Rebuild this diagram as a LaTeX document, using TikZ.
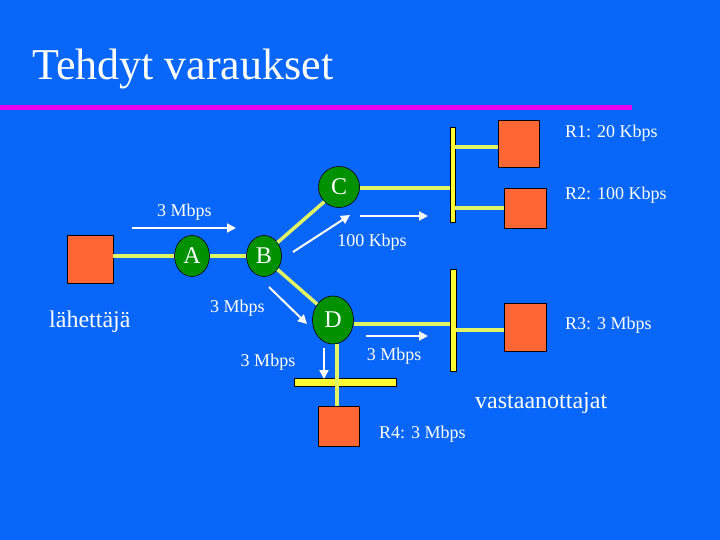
\documentclass[tikz,border=0pt]{standalone}
\usepackage{fontspec}
\setmainfont{Liberation Serif}
\usetikzlibrary{shapes.geometric,arrows.meta}
\definecolor{bgblue}{RGB}{8,102,250}
\definecolor{sqorange}{RGB}{255,102,51}
\definecolor{rgreen}{RGB}{0,145,0}
\definecolor{linkyel}{RGB}{225,245,100}
\definecolor{busyel}{RGB}{255,255,51}
\definecolor{magline}{RGB}{235,0,235}
\tikzset{
  host/.style={draw=black, line width=0.8pt, fill=sqorange, inner sep=0pt},
  router/.style={ellipse, draw=black, line width=0.6pt, fill=rgreen, text=white, inner sep=0pt, font=\fontsize{24}{24}\selectfont},
  link/.style={linkyel, line width=3.5pt},
  busbar/.style={draw=black, line width=0.5pt, fill=busyel, inner sep=0pt},
  flow/.style={white, line width=2pt, -{Triangle[length=9pt,width=9pt]}},
  lbl/.style={text=white, font=\fontsize{18}{18}\selectfont, inner sep=0pt},
  biglbl/.style={text=white, font=\fontsize{24}{24}\selectfont, inner sep=0pt}
}
\begin{document}
\begin{tikzpicture}[x=1pt,y=-1pt]
\fill[bgblue] (0,0) rectangle (720,540);
\useasboundingbox (0,0) rectangle (720,540);
% title
\node[anchor=base west, text=white, font=\fontsize{44}{44}\selectfont, inner sep=0pt] (title) at (32,80) {Tehdyt varaukset};
\fill[magline] (0,105.5) rectangle (632,110);
% hosts
\node[host, minimum width=46pt, minimum height=48pt] (S) at (90,259) {};
\node[host, minimum width=41pt, minimum height=47pt] (R1) at (518.5,143.5) {};
\node[host, minimum width=42pt, minimum height=40pt] (R2) at (525,208) {};
\node[host, minimum width=42pt, minimum height=48pt] (R3) at (525,327) {};
\node[host, minimum width=41pt, minimum height=40pt] (R4) at (338.5,426) {};
% bus bars
\node[busbar, minimum width=5pt, minimum height=95pt] (bus1) at (452.5,174.5) {};
\node[busbar, minimum width=6pt, minimum height=102pt] (bus2) at (453,320) {};
\node[busbar, minimum width=102pt, minimum height=8pt] (bus3) at (345,382) {};
% routers
\node[router, minimum width=35pt, minimum height=41pt] (A) at (192,256) {A};
\node[router, minimum width=35pt, minimum height=41pt] (B) at (264,256) {B};
\node[router, minimum width=41pt, minimum height=41pt] (C) at (339,187) {C};
\node[router, minimum width=41pt, minimum height=48pt] (D) at (333,320) {D};
% links
\draw[link] (S.east |- A.west) -- (A.west);
\draw[link] (A.east) -- (B.west);
\draw[link] (B.45) -- (C.225);
\draw[link] (B.-45) -- (D.135);
\draw[link] (C.east |- 0,188) -- (bus1.west |- 0,188);
\draw[link] (bus1.east |- 0,147) -- (R1.west |- 0,147);
\draw[link] (bus1.east |- 0,208) -- (R2.west);
\draw[link] (D.east |- 0,324) -- (bus2.west |- 0,324);
\draw[link] (bus2.east |- 0,330) -- (R3.west |- 0,330);
\draw[link] (D.south -| 337,0) -- (bus3.north -| 337,0);
\draw[link] (bus3.south -| 337,0) -- (R4.north -| 337,0);
\fill[linkyel] (335.25,378) rectangle (338.75,386);
% flow arrows
\coordinate (f1s) at (132,228); \coordinate (f1e) at (236,228);
\coordinate (f2s) at (293,252); \coordinate (f2e) at (350,215);
\coordinate (f3s) at (360,216); \coordinate (f3e) at (428,216);
\coordinate (f4s) at (269,287); \coordinate (f4e) at (307,324);
\coordinate (f5s) at (366,336); \coordinate (f5e) at (428,336);
\coordinate (f6s) at (324,348); \coordinate (f6e) at (324,379);
\draw[flow] (f1s) -- (f1e);
\draw[flow] (f2s) -- (f2e);
\draw[flow] (f3s) -- (f3e);
\draw[flow] (f4s) -- (f4e);
\draw[flow] (f5s) -- (f5e);
\draw[flow] (f6s) -- (f6e);
% labels
\node[lbl, anchor=base] (l1) at (184.5,217) {3 Mbps};
\node[lbl, anchor=base] (l2) at (372,246) {100 Kbps};
\node[lbl, anchor=base] (l3) at (237.5,312) {3 Mbps};
\node[lbl, anchor=base] (l4) at (268,366) {3 Mbps};
\node[lbl, anchor=base] (l5) at (394,360) {3 Mbps};
\node[lbl, anchor=base west] (lr1) at (565,138) {R1: 20 Kbps};
\node[lbl, anchor=base west] (lr2) at (565,200) {R2: 100 Kbps};
\node[lbl, anchor=base west] (lr3) at (565,329) {R3: 3 Mbps};
\node[lbl, anchor=base west] (lr4) at (379,438) {R4: 3 Mbps};
\node[biglbl, anchor=base west] (send) at (49,327) {lähettäjä};
\node[biglbl, anchor=base west] (recv) at (475,408) {vastaanottajat};
\end{tikzpicture}
\end{document}
